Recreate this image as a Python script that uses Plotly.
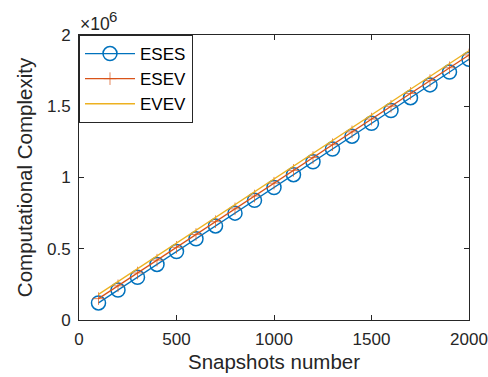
import plotly.graph_objects as go

# Snapshot counts on the horizontal axis
snapshots = [100, 200, 300, 400, 500, 600, 700, 800, 900, 1000,
             1100, 1200, 1300, 1400, 1500, 1600, 1700, 1800, 1900, 2000]

# Computational complexity of each method
eses = [120000, 210000, 300000, 390000, 480000, 570000, 660000, 750000, 840000, 930000,
        1020000, 1110000, 1200000, 1290000, 1380000, 1470000, 1560000, 1650000, 1740000, 1830000]
esev = [150000, 240000, 330000, 420000, 510000, 600000, 690000, 780000, 870000, 960000,
        1050000, 1140000, 1230000, 1320000, 1410000, 1500000, 1590000, 1680000, 1770000, 1860000]
evev = [180000, 270000, 360000, 450000, 540000, 630000, 720000, 810000, 900000, 990000,
        1080000, 1170000, 1260000, 1350000, 1440000, 1530000, 1620000, 1710000, 1800000, 1890000]

y_ticks = [0, 500000, 1000000, 1500000, 2000000]
y_tick_text = ["0", "0.5", "1", "1.5", "2"]
x_ticks = [0, 500, 1000, 1500, 2000]

BLUE = "#0072BD"
RED = "#D95319"
YELLOW = "#EDB120"
AXIS = "#262626"
FONT = "Liberation Sans, Arial, sans-serif"

fig = go.Figure()
fig.add_trace(go.Scatter(
    x=snapshots, y=eses, name="ESES", mode="lines+markers",
    line=dict(color=BLUE, width=1.3),
    marker=dict(symbol="circle-open", size=14, color=BLUE, line=dict(width=1.5)),
))
fig.add_trace(go.Scatter(
    x=snapshots, y=esev, name="ESEV", mode="lines+markers",
    line=dict(color=RED, width=1.3),
    marker=dict(symbol="cross-thin-open", size=9, color=RED, line=dict(width=0.7, color=RED)),
))
fig.add_trace(go.Scatter(
    x=snapshots, y=evev, name="EVEV", mode="lines",
    line=dict(color=YELLOW, width=1.3),
))

axis_common = dict(
    showgrid=False, zeroline=False, automargin=False,
    showline=True, linecolor=AXIS, linewidth=1, mirror="ticks",
    ticks="inside", ticklen=5, tickcolor=AXIS, tickwidth=1,
    tickfont=dict(family=FONT, size=17, color=AXIS),
)

fig.update_layout(
    width=488, height=377,
    margin=dict(l=79, r=19, t=35, b=57),
    paper_bgcolor="white", plot_bgcolor="white",
    font=dict(family=FONT, color=AXIS),
    xaxis=dict(
        range=[0, 2000], tickvals=x_ticks, ticklabelstandoff=4,
        title=dict(text="Snapshots number", font=dict(family=FONT, size=20.5, color=AXIS), standoff=6),
        **axis_common,
    ),
    yaxis=dict(
        range=[0, 2000000], tickvals=y_ticks, ticktext=y_tick_text, ticklabelstandoff=4,
        title=dict(text="Computational Complexity", font=dict(family=FONT, size=20.5, color=AXIS), standoff=8),
        **axis_common,
    ),
    legend=dict(
        x=0, y=1, xanchor="left", yanchor="top",
        bgcolor="white", bordercolor=AXIS, borderwidth=1,
        font=dict(family=FONT, size=17, color="black"),
        tracegroupgap=0, itemwidth=50,
    ),
    annotations=[
        # exponent label above the y axis: "×10" with a raised "6"
        dict(
            x=0, y=1, xref="paper", yref="paper", xanchor="left", yanchor="bottom",
            text="×10", showarrow=False,
            font=dict(family=FONT, size=17.5, color=AXIS), xshift=-1, yshift=-1,
        ),
        dict(
            x=0, y=1, xref="paper", yref="paper", xanchor="left", yanchor="bottom",
            text="6", showarrow=False,
            font=dict(family=FONT, size=15, color=AXIS), xshift=28, yshift=8,
        ),
    ],
)

fig.write_html("out.html")
